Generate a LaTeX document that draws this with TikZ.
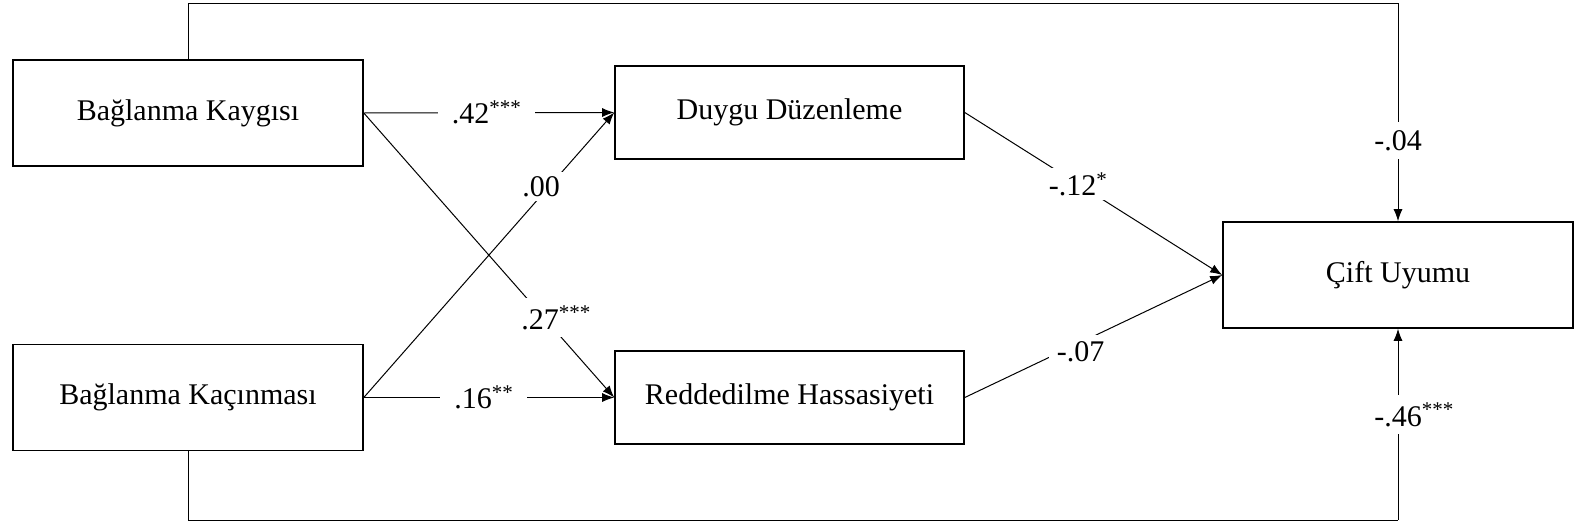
\documentclass[tikz,border=0pt]{standalone}
\usepackage{fontspec}
\setmainfont{Liberation Serif}
\usetikzlibrary{arrows.meta}
\begin{document}
\begin{tikzpicture}[x=1pt,y=-1pt,
  every node/.style={font=\fontsize{30}{36}\selectfont},
  var/.style={draw, line width=1.6pt, inner sep=0pt, minimum width=350pt, minimum height=106pt},
  med/.style={draw, line width=1.6pt, inner sep=0pt, minimum width=349pt, minimum height=93pt},
  path/.style={line width=1pt, -{Latex[length=12pt,width=9pt]}},
  coef/.style={fill=white, inner xsep=14pt, inner ysep=8pt}]
  \useasboundingbox (0,0) rectangle (1575,525);
  % variables
  \node[var] (ka) at (188,113)   {Bağlanma Kaygısı};
  \node[var] (kc) at (188,397.5) {Bağlanma Kaçınması};
  \node[med] (dd) at (789.5,112.5) {Duygu Düzenleme};
  \node[med] (rh) at (789.5,397.5) {Reddedilme Hassasiyeti};
  \node[var] (cu) at (1398,275)  {Çift Uyumu};
  % routing points of the direct paths
  \coordinate (tc) at (1398,3);
  \coordinate (bc) at (1398,520);
  % paths to the mediators
  \draw[path] (ka.east) -- node[coef, pos=0.49] {.42\textsuperscript{***}} (dd.west);
  \draw[path] (ka.east) -- node[coef, pos=0.72, xshift=12pt] {.27\textsuperscript{***}} (rh.west);
  \draw[path] (kc.east) -- node[coef, pos=0.74, xshift=-8pt, inner xsep=6pt, inner ysep=4pt] {.00} (dd.west);
  \draw[path] (kc.east) -- node[coef, pos=0.48] {.16\textsuperscript{**}} (rh.west);
  % paths to the outcome
  \draw[path] (dd.east) -- node[coef, pos=0.44, inner xsep=8pt, inner ysep=4pt] {-.12\textsuperscript{*}} (cu.west);
  \draw[path] (rh.east) -- node[coef, pos=0.45, inner xsep=8pt, inner ysep=6pt, yshift=-9pt] {-.07} (cu.west);
  % direct paths
  \draw[line width=1pt] (ka.north) |- (tc);
  \draw[path] (tc) -- node[coef, pos=0.63, inner xsep=4pt] {-.04} (cu.north);
  \draw[line width=1pt] (kc.south) |- (bc);
  \draw[path] (bc) -- node[coef, pos=0.55, inner xsep=4pt] {-.46\rlap{\textsuperscript{***}}} (cu.south);
\end{tikzpicture}
\end{document}
